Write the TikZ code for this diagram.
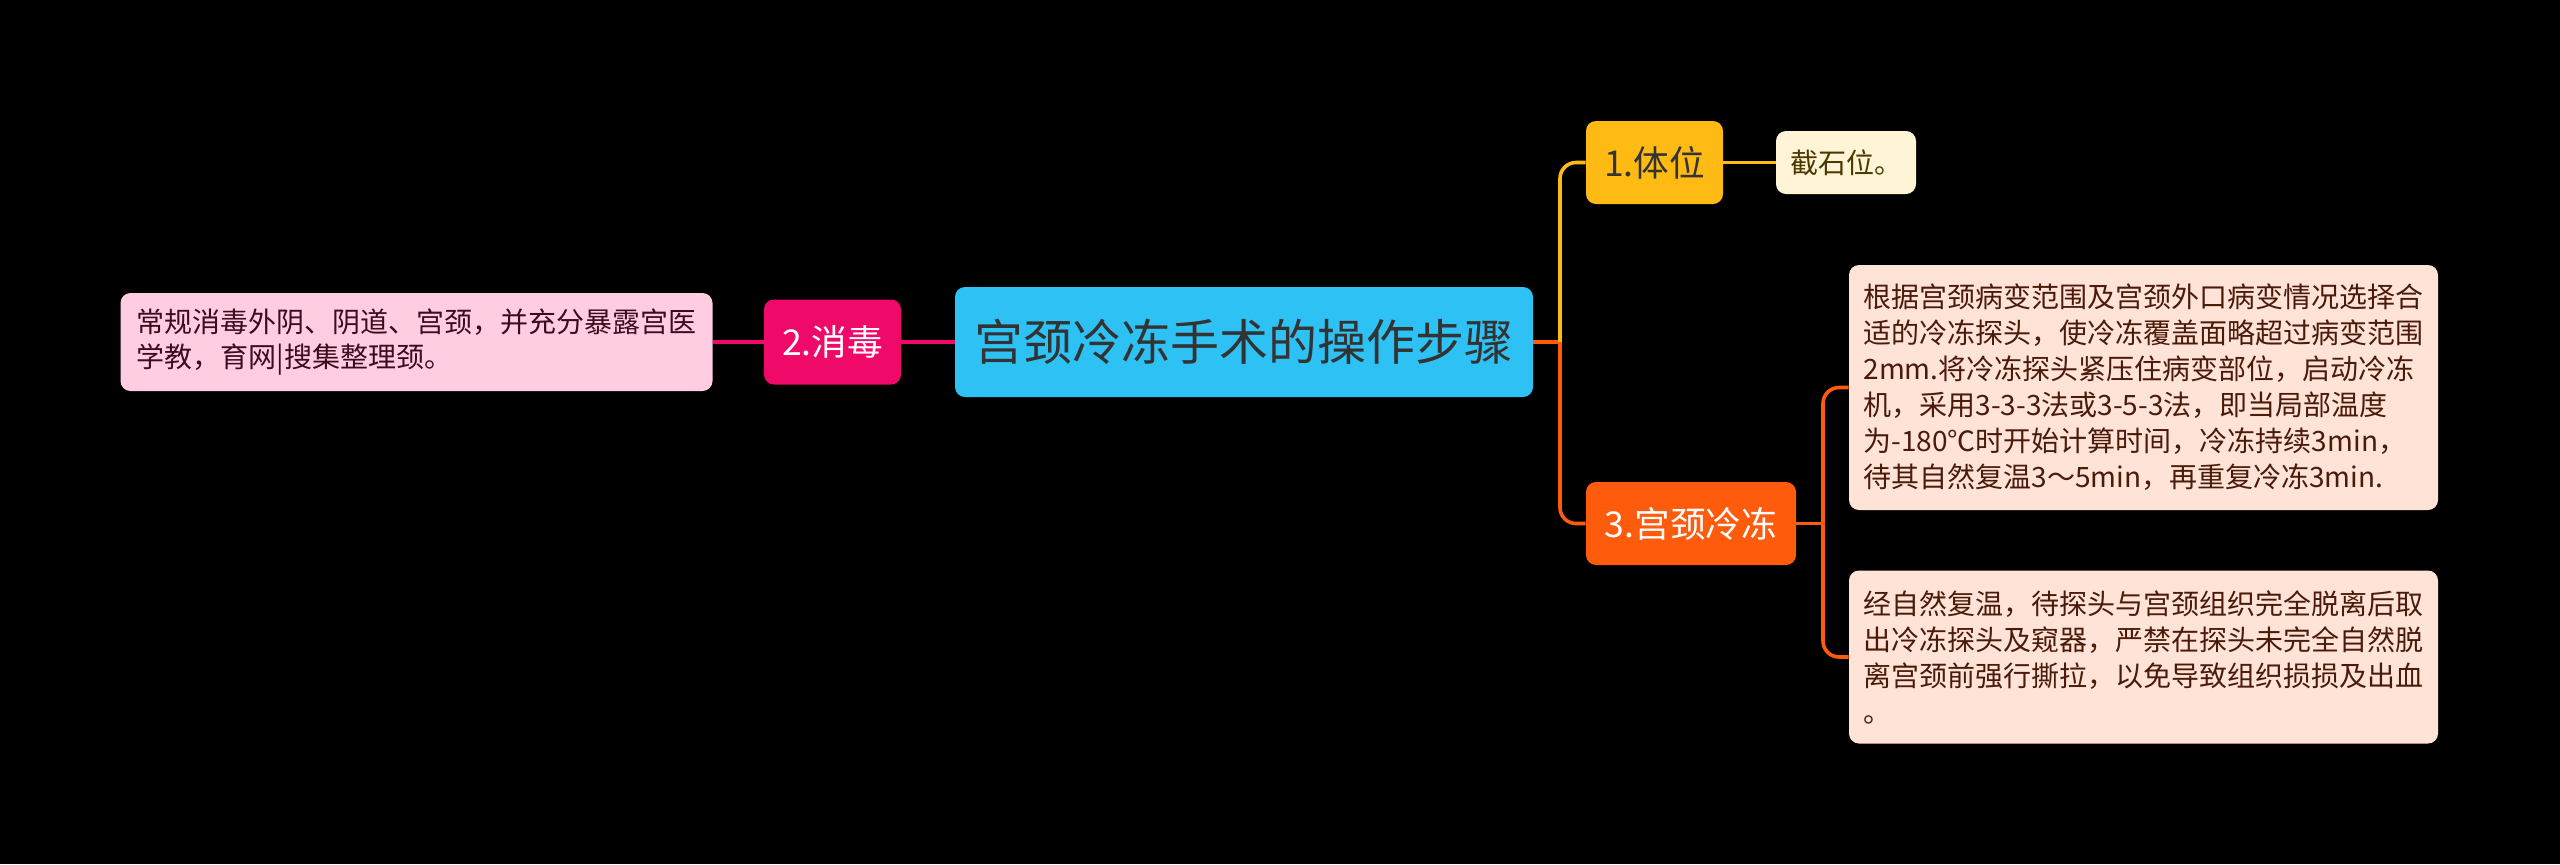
\documentclass[tikz,border=0pt]{standalone}
\usepackage{fontspec}
\setmainfont{Noto Sans CJK SC}
\definecolor{rootblue}{HTML}{2EC2F4}
\definecolor{darktext}{HTML}{333333}
\definecolor{magenta}{HTML}{EF0A69}
\definecolor{pinkfill}{HTML}{FFCCE1}
\definecolor{pinktext}{HTML}{3D0A1E}
\definecolor{amber}{HTML}{FFBB14}
\definecolor{creamfill}{HTML}{FFF4D6}
\definecolor{creamtext}{HTML}{4A3800}
\definecolor{tangerine}{HTML}{FF5B0C}
\definecolor{peachfill}{HTML}{FFE3D7}
\definecolor{peachtext}{HTML}{4A1A0A}
\tikzset{mainbox/.style={fill=rootblue, text=darktext, rounded corners=5pt, inner sep=0pt,
  minimum width=289pt, minimum height=55pt, font=\fontsize{24.5pt}{28pt}\selectfont},
%topic boxes, colour given at use
topicbox/.style={rounded corners=5pt, inner sep=0pt, minimum height=41.5pt,
  font=\fontsize{17.8pt}{21pt}\selectfont},
notebox/.style={rounded corners=5pt, align=left, inner xsep=7pt, inner ysep=7pt,
  font=\fontsize{14pt}{18pt}\selectfont},
link/.style={line width=1.8pt}}

\begin{document}
\begin{tikzpicture}[x=0.5pt,y=-0.5pt]
\fill[black] (0,0) rectangle (2560,864);
\useasboundingbox (0,0) rectangle (2560,864);

% centre
\node[mainbox] (root) at (1244,342) {宫颈冷冻手术的操作步骤};

% left side
\node[topicbox, fill=magenta, text=white, minimum width=68.5pt, minimum height=42.5pt] (disinfect) at (832.5,342) {2.消毒};
\node[notebox, fill=pinkfill, text=pinktext, minimum width=295.5pt, minimum height=49pt, inner xsep=8pt,
  font=\fontsize{14pt}{17.5pt}\selectfont] (disinfectnote) at (416.5,342)
  {常规消毒外阴、阴道、宫颈，并充分暴露宫医\\学教，育网|搜集整理颈。};

% right side
\node[topicbox, fill=amber, text=darktext, minimum width=68.5pt] (posture) at (1654.5,162.5) {1.体位};
\node[notebox, fill=creamfill, text=creamtext, minimum width=69.5pt, minimum height=31.5pt] (posturenote) at (1846,162.5) {截石位。};
\node[topicbox, fill=tangerine, text=white, minimum width=105pt] (freeze) at (1691,523.5) {3.宫颈冷冻};
\node[notebox, fill=peachfill, text=peachtext, minimum width=294.5pt, minimum height=122.5pt] (freezenote) at (2143.5,387.5)
  {根据宫颈病变范围及宫颈外口病变情况选择合\\适的冷冻探头，使冷冻覆盖面略超过病变范围\\2mm.将冷冻探头紧压住病变部位，启动冷冻\\机，采用3-3-3法或3-5-3法，即当局部温度\\为-180℃时开始计算时间，冷冻持续3min，\\待其自然复温3～5min，再重复冷冻3min.};
\node[notebox, fill=peachfill, text=peachtext, minimum width=294.5pt, minimum height=86.5pt] (thawnote) at (2143.5,657)
  {经自然复温，待探头与宫颈组织完全脱离后取\\出冷冻探头及窥器，严禁在探头未完全自然脱\\离宫颈前强行撕拉，以免导致组织损损及出血\\。};

%connectors
\coordinate (rootfork) at (1560,342);
\coordinate (freezefork) at (1823,523.5);
\draw[link, magenta] (root.west) -- (disinfect.east);
\draw[link, magenta] (disinfect.west) -- (disinfectnote.east);
\draw[link, tangerine] (root.east) -- (rootfork);
\draw[link, amber, rounded corners=8pt] (rootfork) |- (posture.west);
\draw[link, amber] (posture.east) -- (posturenote.west);
\draw[link, tangerine, rounded corners=8pt] (rootfork) |- (freeze.west);
\draw[link, tangerine] (freeze.east) -- (freezefork);
\foreach \n in {freezenote,thawnote}
  \draw[link, tangerine, rounded corners=8pt] (freezefork) |- (\n.west);

\end{tikzpicture}
\end{document}
